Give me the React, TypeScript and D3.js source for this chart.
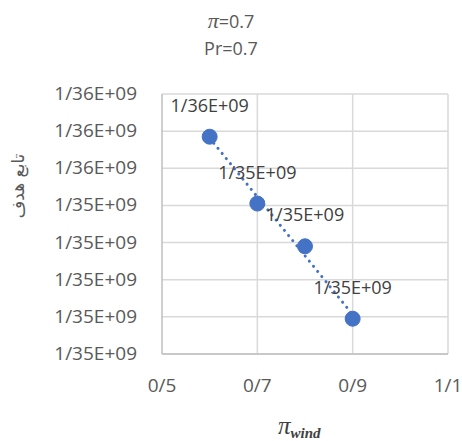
import React from 'react';
import * as d3 from 'd3';

// pi_wind values and objective function values
const xValues = [0.6, 0.7, 0.8, 0.9];
const yValues = [1.355034e9, 1.354962e9, 1.354916e9, 1.354838e9];
const pointLabels = ['1/36E+09', '1/35E+09', '1/35E+09', '1/35E+09'];

const xTicks = [0.5, 0.7, 0.9, 1.1];
const xTickLabels = ['0/5', '0/7', '0/9', '1/1'];
const yTicks = [1.3548e9, 1.35484e9, 1.35488e9, 1.35492e9, 1.35496e9, 1.355e9, 1.35504e9, 1.35508e9];
const yTickLabels = ['1/35E+09', '1/35E+09', '1/35E+09', '1/35E+09', '1/35E+09', '1/36E+09', '1/36E+09', '1/36E+09'];

const titleLines = ['=0.7', 'Pr=0.7'];
const yTitle = 'تابع هدف';

const W = 462;
const H = 441;
const margin = { left: 162, right: 14, top: 94, bottom: 87 };
const font = "'Open Sans', 'Liberation Sans', sans-serif";
const mathFont = "'Liberation Serif', 'DejaVu Serif', serif";
const blue = '#4472C4';

const App: React.FC = () => {
  const x = d3.scaleLinear().domain([0.5, 1.1]).range([margin.left, W - margin.right]);
  const y = d3.scaleLinear().domain([1.3548e9, 1.35508e9]).range([H - margin.bottom, margin.top]);

  // linear trendline (least squares)
  const mx = d3.mean(xValues)!;
  const my = d3.mean(yValues)!;
  const slope = d3.sum(xValues, (v, i) => (v - mx) * (yValues[i] - my)) / d3.sum(xValues, v => (v - mx) ** 2);
  const icpt = my - slope * mx;
  const x0 = d3.min(xValues)!;
  const x1 = d3.max(xValues)!;
  const trend = d3.line<number>().x(v => x(v)).y(v => y(icpt + slope * v))([x0, x1]) || '';

  const plotBottom = H - margin.bottom;

  return (
    <svg width={W} height={H} style={{ position: 'absolute', left: 0, top: 0, background: '#fff' }}>
      {/* title */}
      <text x={231} y={28} textAnchor="middle" fill="#595959" fontFamily={font} fontSize={18}>
        <tspan fontFamily={mathFont} fontStyle="italic" fontSize={22}>π</tspan>
        <tspan>{titleLines[0]}</tspan>
      </text>
      <text x={231} y={55} textAnchor="middle" fill="#595959" fontFamily={font} fontSize={18}>
        {titleLines[1]}
      </text>

      {/* horizontal gridlines */}
      {yTicks.map((t, i) => (
        <line key={'gy' + i} x1={margin.left} x2={W - margin.right} y1={y(t)} y2={y(t)} stroke="#d9d9d9" strokeWidth={1.5} />
      ))}
      {/* vertical gridlines */}
      {xTicks.slice(1).map((t, i) => (
        <line key={'gx' + i} x1={x(t)} x2={x(t)} y1={margin.top} y2={plotBottom} stroke="#d9d9d9" strokeWidth={1.5} />
      ))}
      {/* axes */}
      <line x1={margin.left} x2={margin.left} y1={margin.top} y2={plotBottom} stroke="#bfbfbf" strokeWidth={1.5} />
      <line x1={margin.left} x2={W - margin.right} y1={plotBottom} y2={plotBottom} stroke="#bfbfbf" strokeWidth={1.5} />

      {/* y tick labels */}
      {yTicks.map((t, i) => (
        <text key={'ty' + i} x={137} y={y(t) + 6} textAnchor="end" fill="#595959" fontFamily={font} fontSize={19}>
          {yTickLabels[i]}
        </text>
      ))}
      {/* x tick labels */}
      {xTicks.map((t, i) => (
        <text key={'tx' + i} x={x(t)} y={392} textAnchor="middle" fill="#595959" fontFamily={font} fontSize={19}>
          {xTickLabels[i]}
        </text>
      ))}

      {/* y title */}
      <text transform="translate(24,186) rotate(-90)" textAnchor="middle" fill="#595959" fontFamily="'DejaVu Sans', sans-serif" fontSize={17}>
        {yTitle}
      </text>
      {/* x title */}
      <text x={278} y={434} fill="#404040" fontFamily={mathFont} fontStyle="italic" fontSize={25}>
        π
        <tspan dy={4} fontSize={15} fontWeight="bold">wind</tspan>
      </text>

      {/* trendline */}
      <path d={trend} fill="none" stroke={blue} strokeWidth={3} strokeDasharray="0.1 6.5" strokeLinecap="round" />

      {/* points */}
      {xValues.map((v, i) => (
        <circle key={'p' + i} cx={x(v)} cy={y(yValues[i])} r={7.5} fill={blue} stroke={blue} strokeWidth={1} />
      ))}

      {/* data labels */}
      {xValues.map((v, i) => (
        <text key={'l' + i} x={x(v)} y={y(yValues[i]) - 25} textAnchor="middle" fill="#404040" fontFamily={font} fontSize={18}>
          {pointLabels[i]}
        </text>
      ))}
    </svg>
  );
};

export default App;
